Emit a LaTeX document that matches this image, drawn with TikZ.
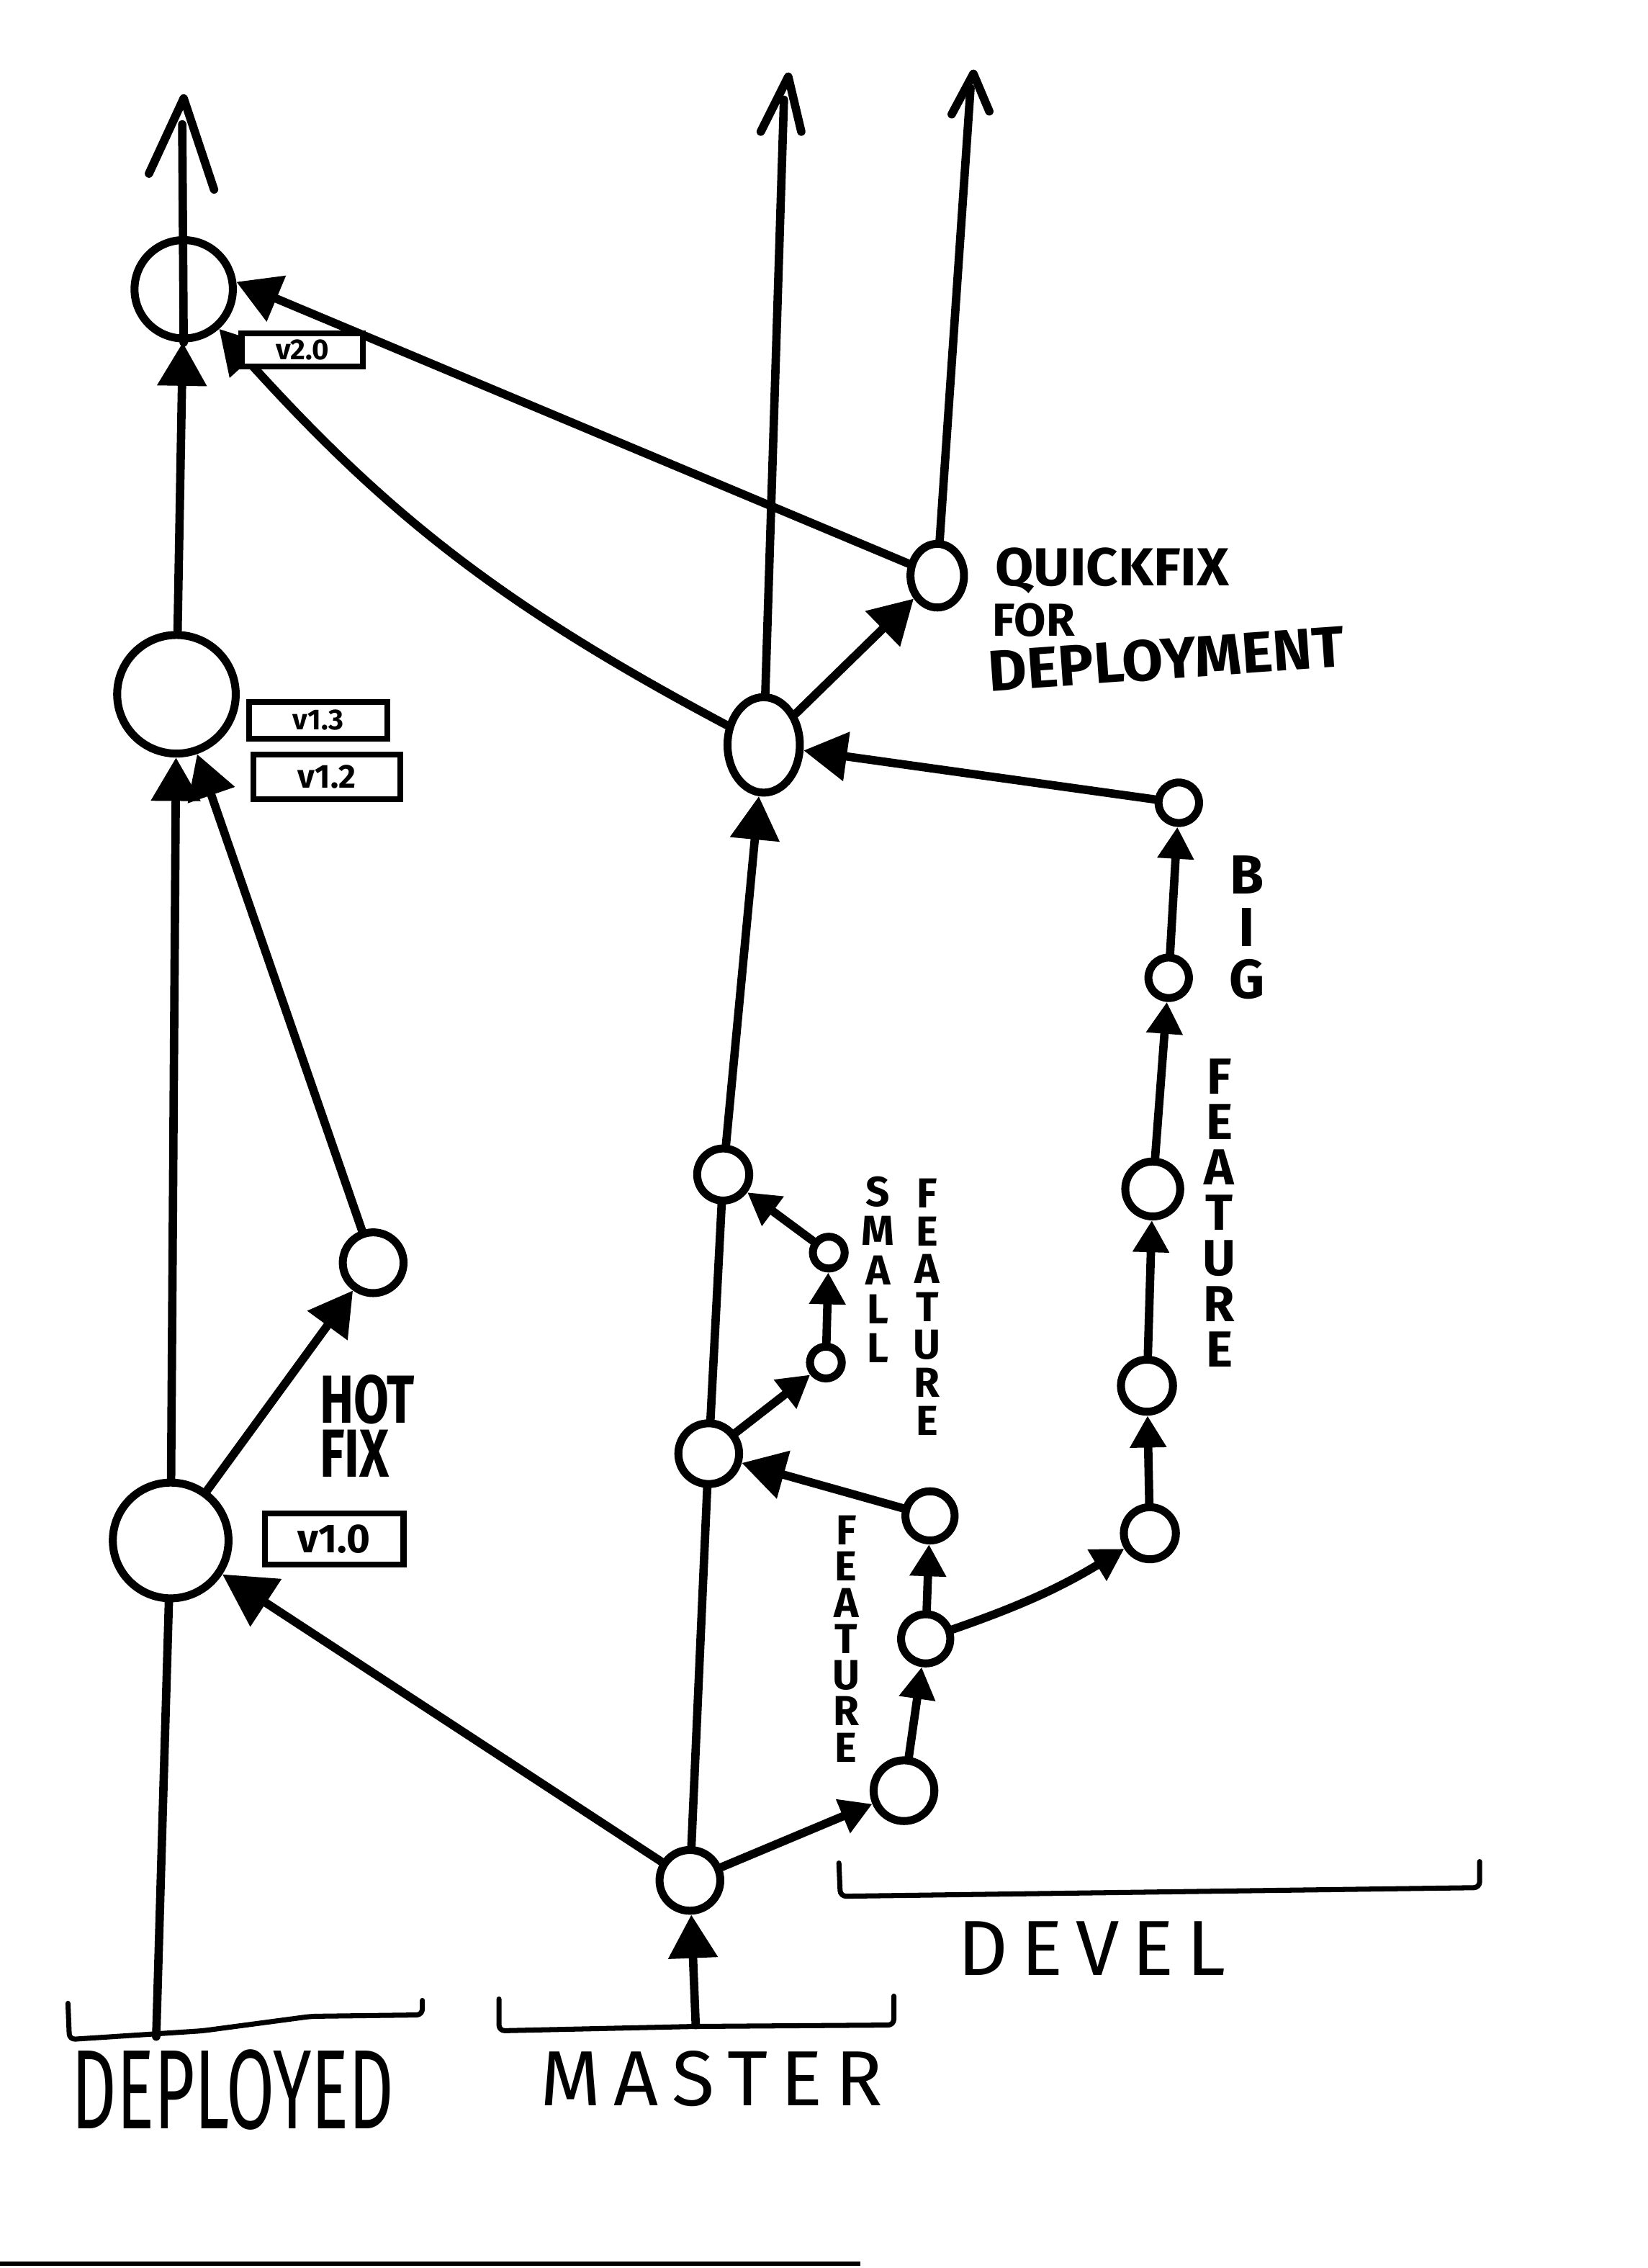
\documentclass[tikz,border=0pt]{standalone}
\usepackage{fontspec}
\setmainfont{Fira Sans}
\usetikzlibrary{arrows.meta,shapes.geometric}
\begin{document}
\begin{tikzpicture}[x=1pt,y=-1pt,
  ln/.style={line width=5.8pt, line cap=round, line join=round},
  brk/.style={line width=3.5pt, line cap=round, line join=round, rounded corners=4pt},
  cnode/.style={circle, draw, line width=5.5pt, inner sep=0pt, fill=white},
  enode/.style={ellipse, draw, line width=5.5pt, inner sep=0pt, fill=white},
  arr/.style={ln, -{Triangle[length=30pt,width=33pt]}},
  bigarr/.style={ln, -{Triangle[length=36pt,width=38pt]}},
  sarr/.style={ln, -{Triangle[length=22pt,width=24pt]}},
  vtag/.style={draw, line width=4pt, inner sep=0pt, fill=white},
  vlet/.style={inner sep=0pt, font=\bfseries\fontsize{29}{29}\selectfont},
  blet/.style={inner sep=0pt, font=\bfseries\fontsize{38}{38}\selectfont},
  hand/.style={inner sep=0pt, anchor=base west, font=\bfseries}
]
\fill[white] (0,0) rectangle (1139,1568);
\useasboundingbox (0,0) rectangle (1139,1568);

% ---- nodes: deployed
\node[cnode, minimum size=68pt] (D3) at (127,200) {};
\node[cnode, minimum size=82pt] (D2) at (122,480) {};
\node[cnode, minimum size=80pt] (D1) at (118,1065) {};
\node[cnode, minimum size=42pt] (H) at (258,873) {};
% ---- master
\node[cnode, minimum size=42pt] (M0) at (477,1300) {};
\node[cnode, minimum size=42pt] (M1) at (490,1005) {};
\node[cnode, minimum size=22pt] (SF1) at (571,942) {};
\node[cnode, minimum size=22pt] (SF2) at (573,866) {};
\node[cnode, minimum size=36pt] (M2) at (500,812) {};
\node[enode, minimum width=50pt, minimum height=66pt] (M3) at (528,515) {};
\node[enode, minimum width=37pt, minimum height=44pt] (Q) at (648,398) {};
% ---- devel
\node[cnode, minimum size=42pt] (F1) at (625,1238) {};
\node[cnode, minimum size=34pt] (F2) at (640,1133) {};
\node[cnode, minimum size=34pt] (F3) at (643,1048) {};
\node[cnode, minimum size=36pt] (B1) at (795,1060) {};
\node[cnode, minimum size=36pt] (B2) at (793,958) {};
\node[cnode, minimum size=38pt] (B3) at (797,822) {};
\node[cnode, minimum size=28pt] (B4) at (808,676) {};
\node[cnode, minimum size=28pt] (B5) at (815,555) {};

% ---- free ends
\coordinate (dBot) at (108,1408);
\coordinate (mBot) at (481,1400);
\coordinate (dTop) at (126,86);
\coordinate (mTop) at (542,69);
\coordinate (qTop) at (671,61);
\coordinate (dTip) at (127,68);
\coordinate (dL) at (103,120);
\coordinate (dR) at (148,131);
\coordinate (mTip) at (545,53);
\coordinate (mL) at (526,91);
\coordinate (mR) at (554,91);
\coordinate (qTip) at (673,51);
\coordinate (qL) at (658,79);
\coordinate (qR) at (684,77);

% ---- connectors
\draw[ln] (dBot) -- (D1);
\draw[arr] (D1) -- (D2);
\draw[arr] (D2) -- (D3);
\draw[ln] (D3.south) -- (dTop);
\draw[ln] (dL) -- (dTip) -- (dR);
\draw[arr] (D1) -- (H);
\draw[arr] (H) -- (D2);

\draw[arr] (mBot) -- (M0);
\draw[bigarr] (M0) -- (D1);
\draw[ln] (M0) -- (M1);
\draw[ln] (M1) -- (M2);
\draw[sarr] (M1) -- (SF1);
\draw[sarr] (SF1) -- (SF2);
\draw[sarr] (SF2) -- (M2);
\draw[arr] (M2) -- (M3);
\draw[arr] (M3) -- (Q);
\draw[ln] (M3) -- (mTop);
\draw[ln] (mL) -- (mTip) -- (mR);
\draw[ln] (Q) -- (qTop);
\draw[ln] (qL) -- (qTip) -- (qR);
\draw[arr] (M3) to[bend left=10] (D3);
\draw[arr] (Q) -- (D3.8);

\draw[sarr] (M0) -- (F1);
\draw[sarr] (F1) -- (F2);
\draw[sarr] (F2) -- (F3);
\draw[arr] (F3) -- (M1);
\draw[sarr] (F2) to[bend right=6] (B1);
\draw[sarr] (B1) -- (B2);
\draw[sarr] (B2) -- (B3);
\draw[sarr] (B3) -- (B4);
\draw[sarr] (B4) -- (B5);
\draw[arr] (B5) -- (M3);

% ---- version tags
\node[vtag, minimum width=84pt, minimum height=23pt, font=\bfseries\fontsize{20}{20}\selectfont] (t20) at (209,242) {v2.0};
\node[vtag, minimum width=96pt, minimum height=25pt, font=\bfseries\fontsize{20}{20}\selectfont] (t13) at (220,498) {v1.3};
\node[vtag, minimum width=102pt, minimum height=31pt, font=\bfseries\fontsize{23}{23}\selectfont] (t12) at (226,537) {v1.2};
\node[vtag, minimum width=96pt, minimum height=35pt, font=\bfseries\fontsize{28}{28}\selectfont] (t10) at (231,1064) {v1.0};

% ---- labels
\node[hand, font=\bfseries\fontsize{37}{37}\selectfont, xscale=1.04] (lq1) at (688,405) {QUICKFIX};
\node[hand, font=\bfseries\fontsize{32}{32}\selectfont] (lq2) at (686,440) {FOR};
\node[hand, font=\bfseries\fontsize{40}{40}\selectfont, rotate=4, xscale=1.03] (lq3) at (684,478) {DEPLOYMENT};
\node[hand, font=\bfseries\fontsize{47}{47}\selectfont, xscale=0.75] (lh1) at (221,984) {HOT};
\node[hand, font=\bfseries\fontsize{47}{47}\selectfont, xscale=0.75] (lh2) at (221,1021) {FIX};

\foreach \l [count=\i] in {S,M,A,L,L}
  \node[vlet] (sm\i) at (607,{824+27*(\i-1)}) {\l};
\foreach \l [count=\i] in {F,E,A,T,U,R,E}
  \node[vlet] (sf\i) at (641,{825+26.2*(\i-1)}) {\l};
\foreach \l [count=\i] in {F,E,A,T,U,R,E}
  \node[vlet] (ff\i) at (585,{1058+25*(\i-1)}) {\l};
\foreach \l [count=\i] in {B,I,G}
  \node[blet] (bg\i) at (862,{605+36*(\i-1)}) {\l};
\foreach \l [count=\i] in {F,E,A,T,U,R,E}
  \node[vlet, font=\bfseries\fontsize{35}{35}\selectfont] (bf\i) at (843,{744+31.5*(\i-1)}) {\l};

% ---- branch brackets
\coordinate (bd1) at (47,1385);
\coordinate (bd2) at (292,1383);
\draw[brk] (bd1) -- (48,1410) -- (140,1404) -- (215,1394) -- (292,1393) -- (bd2);
\coordinate (bm1) at (345,1382);
\coordinate (bm2) at (618,1380);
\draw[brk] (bm1) -- (345,1404) -- (480,1401) -- (618,1400) -- (bm2);
\coordinate (bv1) at (580,1288);
\coordinate (bv2) at (1023,1287);
\draw[brk] (bv1) -- (581,1311) -- (1023,1305) -- (bv2);

\node[inner sep=0pt, font=\fontsize{78}{78}\selectfont, xscale=0.62] (ldep) at (161,1445) {DEPLOYED};
\node[inner sep=0pt, font=\fontsize{54}{54}\selectfont] (lmas) at (492,1437) {M\,A\,S\,T\,E\,R};
\node[inner sep=0pt, font=\fontsize{54}{54}\selectfont] (ldev) at (755,1347) {D\,E\,V\,E\,L};

% ---- scan edge
\coordinate (e1) at (0,1565);
\coordinate (e2) at (595,1565);
\draw[line width=3pt] (e1) -- (e2);
\end{tikzpicture}
\end{document}
